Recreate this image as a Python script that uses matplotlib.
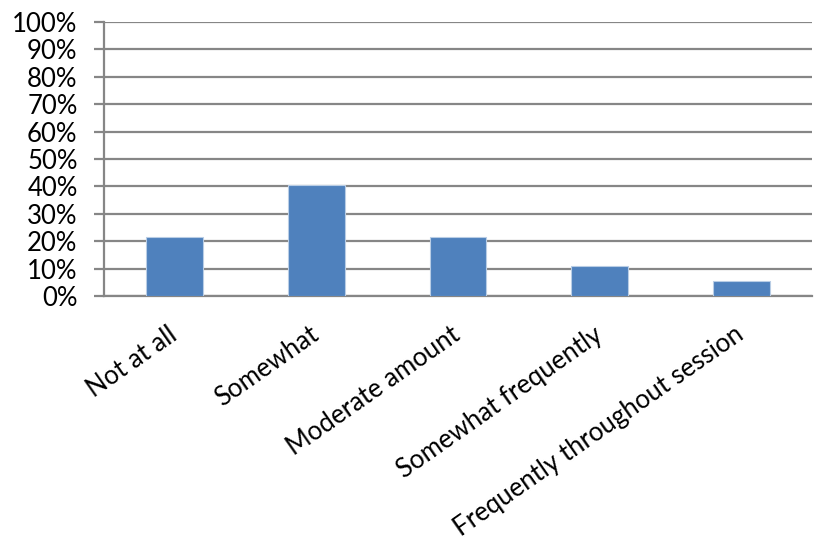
import numpy as np
import matplotlib.pyplot as plt
from matplotlib.ticker import PercentFormatter

# Données
categories = ['Not at all', 'Somewhat', 'Moderate amount',
              'Somewhat frequently', 'Frequently throughout session']
values = [21.6, 40.5, 21.6, 10.8, 5.4]

plt.rcParams['font.family'] = ['Lato', 'DejaVu Sans']

fig = plt.figure(figsize=(8.14, 5.44), dpi=100)
ax = fig.add_axes([104 / 814, 1 - 296 / 544, 708 / 814, 274 / 544])

x = np.arange(len(categories))
ax.bar(x, values, width=0.4, color='#4F81BD', edgecolor='#B9CDE5',
       linewidth=0.8, zorder=3)

ax.set_xlim(-0.5, len(categories) - 0.5)
ax.set_ylim(0, 100)
ax.set_yticks(np.arange(0, 101, 10))
ax.yaxis.set_major_formatter(PercentFormatter(decimals=0))
ax.grid(axis='y', color='#868686', linewidth=1.6, zorder=0)

for side in ['top', 'right']:
    ax.spines[side].set_visible(False)
for side in ['left', 'bottom']:
    ax.spines[side].set_color('#868686')
    ax.spines[side].set_linewidth(1.6)

ax.tick_params(axis='y', length=7, width=1.6, color='#868686',
               labelsize=18.5, pad=12)
ax.tick_params(axis='x', length=0, labelsize=18.5, pad=26)
ax.set_xticks(x)
ax.set_xticklabels(categories, rotation=35, ha='right',
                   rotation_mode='anchor', va='center')

fig.savefig('out.png', dpi=100)
